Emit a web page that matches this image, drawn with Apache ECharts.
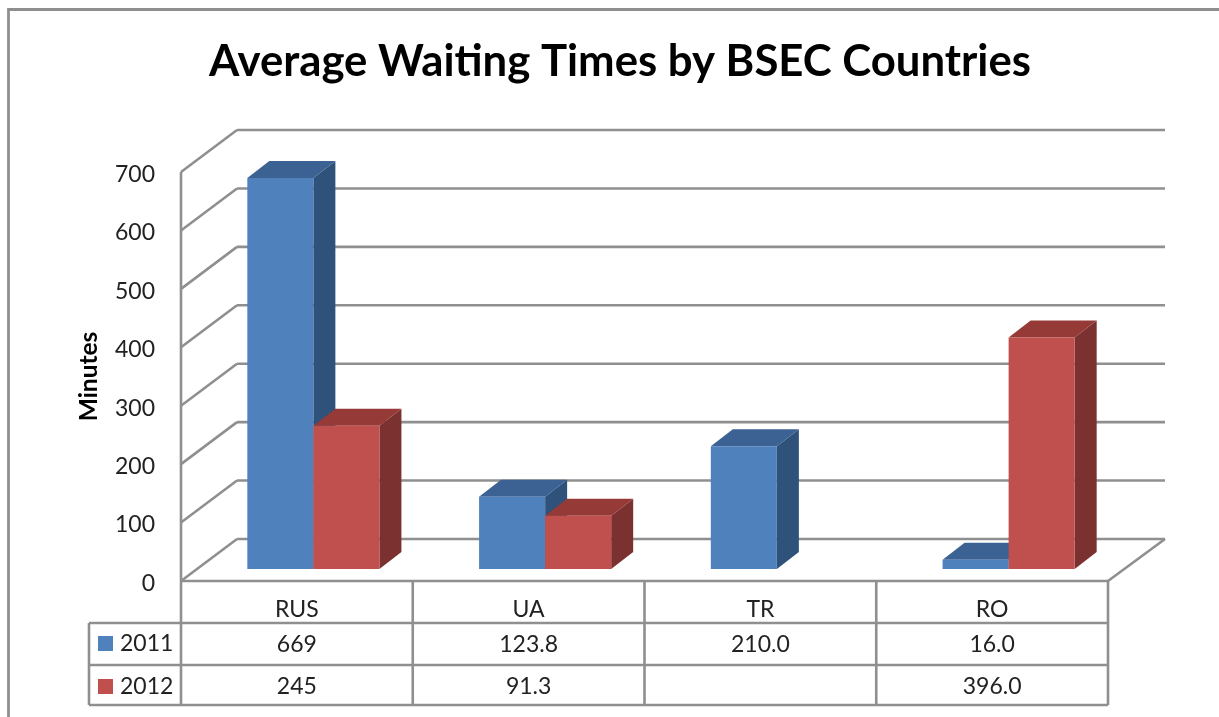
<!DOCTYPE html>
<html>
<head>
<meta charset="utf-8">
<style>html,body{margin:0;padding:0;background:#fff;overflow:hidden}#c{width:1219px;height:717px}</style>
<script src="https://cdn.jsdelivr.net/npm/echarts@6/dist/echarts.min.js"></script>
</head>
<body>
<div id="c"></div>
<script>
const categories = ['RUS', 'UA', 'TR', 'RO'];
const values2011 = [669, 123.8, 210, 16];
const values2012 = [245, 91.3, null, 396];
const table2011 = ['669', '123.8', '210.0', '16.0'];
const table2012 = ['245', '91.3', '', '396.0'];
const yTicks = [0, 100, 200, 300, 400, 500, 600, 700];

const FONT = 'Lato';
const LINE = '#8f8f8f';
const LW = 2.6;
const TXT = '#222222';

const chart = echarts.init(document.getElementById('c'));

function line(x1, y1, x2, y2) {
  return { type: 'line', shape: { x1, y1, x2, y2 }, style: { stroke: LINE, lineWidth: LW, fill: null } };
}

function renderWall(params, api) {
  const cs = params.coordSys;
  const y = api.coord([0, api.value(0)])[1];
  const right = cs.x + cs.width;
  return {
    type: 'group',
    children: [
      line(cs.x, y, cs.x + 56, y - 42),
      line(cs.x + 56, y - 42, right + 57, y - 42)
    ]
  };
}

function renderFloor(params, api) {
  const cs = params.coordSys;
  const y = cs.y + cs.height;
  const right = cs.x + cs.width;
  return {
    type: 'group',
    children: [
      line(right, y, right + 57, y - 42),
      line(cs.x, cs.y, cs.x, y),
      line(cs.x, y, right, y),
      line(89, y + 42, right, y + 42),
      line(89, y + 84, right, y + 84),
      line(89, y + 124, right, y + 124),
      line(89, y + 42, 89, y + 124),
      line(cs.x, y, cs.x, y + 124)
    ]
  };
}

function renderTable(params, api) {
  const i = api.value(0);
  const band = api.size([1, 0])[0];
  const p = api.coord([i, 0]);
  const text = (s, dy) => ({
    type: 'text',
    x: p[0], y: p[1] + dy,
    style: { text: s, fill: TXT, font: '23px ' + FONT, textAlign: 'center', textVerticalAlign: 'middle' }
  });
  return {
    type: 'group',
    children: [
      line(p[0] + band / 2, p[1], p[0] + band / 2, p[1] + 124),
      text(table2011[i], 64),
      text(table2012[i], 106)
    ]
  };
}

function renderBar(side, top, sign) {
  return function (params, api) {
    const v = api.value(1);
    if (v == null || isNaN(v)) return;
    const band = api.size([1, 0])[0];
    const w = band * 0.285;
    const top0 = api.coord([api.value(0), v]);
    const base0 = api.coord([api.value(0), 0]);
    const ox = 16.5, oy = -12, dx = 22, dy = -17;
    const xl = base0[0] + ox + (sign < 0 ? -w : 0);
    const xr = xl + w;
    const yb = base0[1] + oy;
    const yt = top0[1] + oy;
    const color = api.visual('color');
    return {
      type: 'group',
      children: [
        { type: 'polygon', shape: { points: [[xr, yb], [xr + dx, yb + dy], [xr + dx, yt + dy], [xr, yt]] }, style: { fill: side } },
        { type: 'polygon', shape: { points: [[xl, yt], [xl + dx, yt + dy], [xr + dx, yt + dy], [xr, yt]] }, style: { fill: top } },
        { type: 'rect', shape: { x: xl, y: yt, width: w, height: yb - yt }, style: { fill: color } }
      ]
    };
  };
}

chart.setOption({
  animation: false,
  backgroundColor: '#ffffff',
  title: {
    text: 'Average Waiting Times by BSEC Countries',
    left: 615, top: 35, textAlign: 'center',
    textStyle: { fontFamily: FONT, fontWeight: 'bold', fontSize: 43.7, color: '#000000' }
  },
  legend: {
    orient: 'vertical', left: 98, top: 632, itemWidth: 15, itemHeight: 15, itemGap: 20, padding: 0,
    icon: 'rect',
    data: ['2011', '2012'],
    textStyle: { fontFamily: FONT, fontSize: 23, color: TXT, padding: [3, 0, 0, 2] }
  },
  grid: { left: 181, top: 172, width: 927, height: 409 },
  xAxis: {
    type: 'category',
    data: categories,
    axisLine: { show: false },
    axisTick: { show: false },
    axisLabel: { margin: 17, fontFamily: FONT, fontSize: 23, color: TXT }
  },
  yAxis: {
    type: 'value', min: 0, max: 700, interval: 100,
    name: 'Minutes', nameLocation: 'middle', nameRotate: 90, nameGap: 79,
    nameTextStyle: { fontFamily: FONT, fontWeight: 'bold', fontSize: 24.5, color: '#000000' },
    axisLine: { show: false },
    axisTick: { show: false },
    splitLine: { show: false },
    axisLabel: {
      margin: 26, color: TXT,
      formatter: '{v|{value}}',
      rich: { v: { fontFamily: FONT, fontSize: 23, color: TXT, padding: [5, 0, 0, 0] } }
    }
  },
  graphic: [
    { type: 'polyline', shape: { points: [[8.5, 717], [8.5, 9.5], [1219, 9.5]] }, style: { stroke: LINE, lineWidth: 2.8, fill: null }, silent: true }
  ],
  series: [
    { type: 'custom', name: 'wall', z: 1, clip: false, silent: true, renderItem: renderWall, data: yTicks.map(t => [t]), encode: { y: 0 } },
    { type: 'custom', name: 'floor', z: 1, clip: false, silent: true, renderItem: renderFloor, data: [[0]] },
    { type: 'custom', name: 'table', z: 1, clip: false, silent: true, renderItem: renderTable, data: categories.map((c, i) => [i]), encode: { x: 0 } },
    { type: 'custom', name: '2011', z: 3, clip: false, itemStyle: { color: '#4F81BD' },
      renderItem: renderBar('#2F527B', '#3B6292', -1),
      data: values2011.map((v, i) => [i, v]), encode: { x: 0, y: 1 } },
    { type: 'custom', name: '2012', z: 4, clip: false, itemStyle: { color: '#C0504D' },
      renderItem: renderBar('#7B3130', '#963A38', 1),
      data: values2012.map((v, i) => [i, v]), encode: { x: 0, y: 1 } }
  ]
});
</script>
</body>
</html>
